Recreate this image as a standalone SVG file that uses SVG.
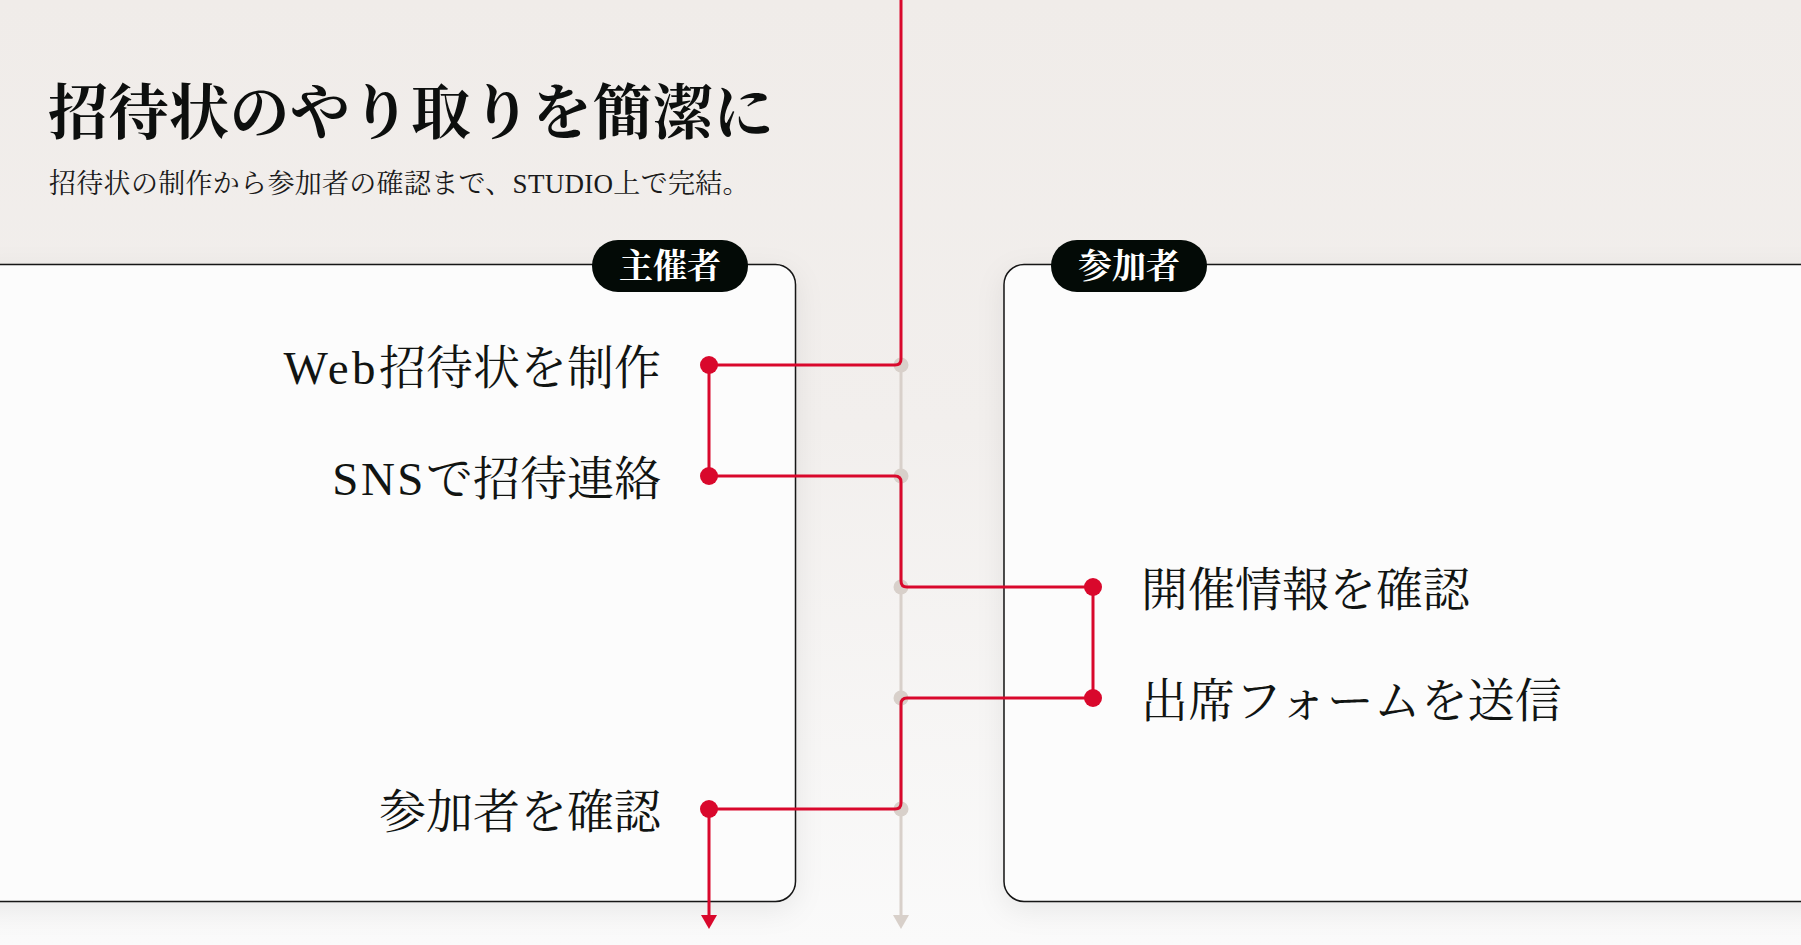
<svg xmlns="http://www.w3.org/2000/svg" width="1801" height="945" viewBox="0 0 1801 945">
  <style>
    .jp { font-family: "Liberation Serif", "Noto Serif CJK JP", "Noto Sans CJK JP", serif; }
    .title { font-size: 60px; font-weight: 700; fill: #0d0f0e; letter-spacing: 0.5px; }
    .sub { font-size: 27px; fill: #1a1a1a; letter-spacing: 0.3px; }
    .step { font-size: 47px; fill: #111412; }
    .badge { fill: #030a06; }
    .badgetxt { font-size: 34px; font-weight: 700; fill: #ffffff; }
    .lane { fill: #fcfcfc; stroke: #151515; stroke-width: 1.5; }
    .red { fill: none; stroke: #d9082c; stroke-width: 3; stroke-linejoin: round; }
    .gray { fill: none; stroke: #d8d0ca; stroke-width: 3; }
    .rdot { fill: #d9082c; }
    .gdot { fill: #d8d0ca; }
  </style>
  <defs>
    <linearGradient id="bg" x1="0" y1="0" x2="0" y2="1">
      <stop offset="0" stop-color="#f0ece9"/>
      <stop offset="0.45" stop-color="#f2efed"/>
      <stop offset="1" stop-color="#fafafa"/>
    </linearGradient>
    <filter id="sh" x="-10%" y="-10%" width="120%" height="125%">
      <feDropShadow dx="0" dy="8" stdDeviation="14" flood-color="#000" flood-opacity="0.07"/>
    </filter>
    <marker id="arrRed" viewBox="0 0 14 16" refX="0" refY="8" markerWidth="14" markerHeight="16" markerUnits="userSpaceOnUse" orient="auto">
      <path d="M0,0 L14,8 L0,16 z" fill="#d9082c"/>
    </marker>
    <marker id="arrGray" viewBox="0 0 14 16" refX="0" refY="8" markerWidth="14" markerHeight="16" markerUnits="userSpaceOnUse" orient="auto">
      <path d="M0,0 L14,8 L0,16 z" fill="#d8d0ca"/>
    </marker>
  </defs>

  <rect x="0" y="0" width="1801" height="945" fill="url(#bg)"/>

  <g id="title">
    <text class="jp title" x="48" y="134">招待状のやり取りを簡潔に</text>
    <text class="jp sub" x="49" y="193">招待状の制作から参加者の確認まで、STUDIO上で完結。</text>
  </g>

  <g id="lane-host">
    <rect class="lane" x="-30" y="264.5" width="825.5" height="637" rx="20" filter="url(#sh)"/>
    <rect class="badge" x="592" y="240" width="156" height="52" rx="26"/>
    <text class="jp badgetxt" x="670" y="278" text-anchor="middle">主催者</text>
  </g>

  <g id="lane-guest">
    <rect class="lane" x="1004" y="264.5" width="830" height="637" rx="20" filter="url(#sh)"/>
    <rect class="badge" x="1051" y="240" width="156" height="52" rx="26"/>
    <text class="jp badgetxt" x="1129" y="278" text-anchor="middle">参加者</text>
  </g>

  <g id="connectors">
    <path class="gray" d="M901,365 V915" marker-end="url(#arrGray)"/>
    <circle class="gdot" cx="901" cy="365" r="7.5"/>
    <circle class="gdot" cx="901" cy="476" r="7.5"/>
    <circle class="gdot" cx="901" cy="587" r="7.5"/>
    <circle class="gdot" cx="901" cy="698" r="7.5"/>
    <circle class="gdot" cx="901" cy="809" r="7.5"/>
    <path class="red" d="M901,0 V359 Q901,365 895,365 H709"/>
    <path class="red" d="M709,365 V476"/>
    <path class="red" d="M709,476 H895 Q901,476 901,482 V581 Q901,587 907,587 H1093"/>
    <path class="red" d="M1093,587 V698"/>
    <path class="red" d="M1093,698 H907 Q901,698 901,704 V803 Q901,809 895,809 H709 V915" marker-end="url(#arrRed)"/>
  </g>

  <g id="step-create">
    <text class="jp step" x="661" y="384" text-anchor="end"><tspan letter-spacing="3.5">Web</tspan>招待状を制作</text>
    <circle class="rdot" cx="709" cy="365" r="9"/>
  </g>
  <g id="step-sns">
    <text class="jp step" x="661" y="495" text-anchor="end"><tspan letter-spacing="2.5">SNS</tspan>で招待連絡</text>
    <circle class="rdot" cx="709" cy="476" r="9"/>
  </g>
  <g id="step-info">
    <circle class="rdot" cx="1093" cy="587" r="9"/>
    <text class="jp step" x="1141" y="606">開催情報を確認</text>
  </g>
  <g id="step-form">
    <circle class="rdot" cx="1093" cy="698" r="9"/>
    <text class="jp step" x="1141" y="717">出席フォームを送信</text>
  </g>
  <g id="step-check">
    <text class="jp step" x="661" y="828" text-anchor="end">参加者を確認</text>
    <circle class="rdot" cx="709" cy="809" r="9"/>
  </g>
</svg>
